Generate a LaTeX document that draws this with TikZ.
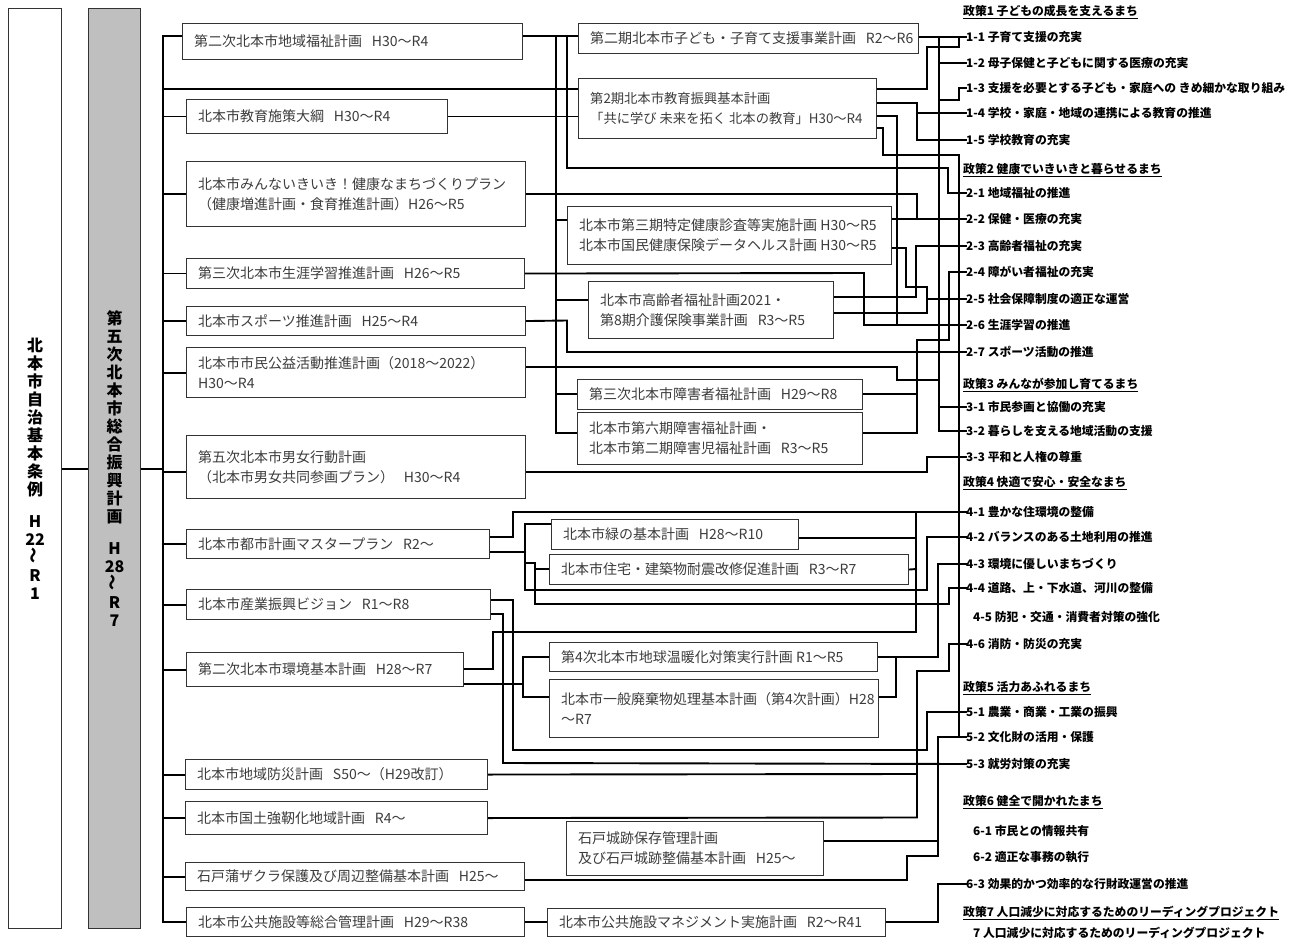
\documentclass[tikz,border=0pt]{standalone}
\usepackage{fontspec}
\setmainfont{Noto Sans CJK JP}
\usepackage{graphicx}
\usetikzlibrary{calc}
\definecolor{boxgray}{HTML}{BFBFBF}
\definecolor{txtgray}{HTML}{3C3C3C}
\pgfdeclarelayer{paper}
\pgfdeclarelayer{bg}
\pgfsetlayers{paper,bg,main}
\tikzset{
  pbx/.style={draw=black!80, line width=1.1pt, fill=white, inner sep=0pt},
  ptx/.style={text=txtgray, font=\fontsize{14}{20}\selectfont, align=left, inner sep=0pt},
  wire/.style={line width=1.9pt, black, line cap=rect, line join=miter},
  lab/.style={anchor=west, inner sep=0pt, font=\fontsize{11.8}{13}\selectfont\bfseries},
  vtext/.style={align=center, inner sep=0pt, font=\fontsize{16}{18}\selectfont\bfseries}
}
\newcommand{\gp}{\hspace{0.7em}}
\newcommand{\planbox}[6]{%
  \node[pbx, minimum width={#4pt-#2pt}, minimum height={#5pt-#3pt}, anchor=north west] (#1) at (#2,#3) {};
  \node[ptx, anchor=west] (#1t) at ([xshift=12pt]#1.west) {#6};}
\begin{document}
\begin{tikzpicture}[x=1pt,y=-1pt]
\useasboundingbox (0,0) rectangle (1301,941);
\begin{pgfonlayer}{paper}
\fill[white] (0,0) rectangle (1301,941);
\end{pgfonlayer}
% tall boxes
\node[draw=black!80, line width=1.1pt, fill=white, minimum width=53pt, minimum height=920pt, anchor=north west, inner sep=0pt] (jorei) at (8,8) {};
\node[vtext] (joreit) at (jorei.center) {北\\本\\市\\自\\治\\基\\本\\条\\例\\[14pt]H\\22\\\rotatebox{90}{～}\\R\\1};
\node[draw=black!80, line width=1.1pt, fill=boxgray, minimum width=52pt, minimum height=920pt, anchor=north west, inner sep=0pt] (sogo) at (88,8) {};
\node[vtext] (sogot) at (sogo.center) {第\\五\\次\\北\\本\\市\\総\\合\\振\\興\\計\\画\\[14pt]H\\28\\\rotatebox{90}{～}\\R\\7};
\coordinate (bus) at (163,0);
% left column
\planbox{b1}{182}{23}{522}{59}{第二次北本市地域福祉計画\gp H30～R4}
\planbox{b2}{186}{99}{447}{133}{北本市教育施策大綱\gp H30～R4}
\planbox{b3}{186}{161}{525}{226}{北本市みんないきいき！健康なまちづくりプラン\\（健康増進計画・食育推進計画）H26～R5}
\planbox{b4}{186}{258}{524}{288}{第三次北本市生涯学習推進計画\gp H26～R5}
\planbox{b5}{186}{306}{525}{335}{北本市スポーツ推進計画\gp H25～R4}
\planbox{b6}{186}{347}{525}{397}{北本市市民公益活動推進計画（2018～2022）\\H30～R4}
\planbox{b7}{186}{435}{525}{498}{第五次北本市男女行動計画\\（北本市男女共同参画プラン）\gp H30～R4}
\planbox{b8}{186}{529}{489}{558}{北本市都市計画マスタープラン\gp R2～}
\planbox{b9}{186}{589}{490}{619}{北本市産業振興ビジョン\gp R1～R8}
\planbox{b10}{186}{652}{463}{686}{第二次北本市環境基本計画\gp H28～R7}
\planbox{b11}{185}{759}{487}{789}{北本市地域防災計画\gp S50～（H29改訂）}
\planbox{b12}{185}{801}{487}{834}{北本市国土強靭化地域計画\gp R4～}
\planbox{b13}{185}{862}{524}{890}{石戸蒲ザクラ保護及び周辺整備基本計画\gp H25～}
\planbox{b14}{186}{907}{524}{936}{北本市公共施設等総合管理計画\gp H29～R38}
% middle column
\planbox{A}{578}{23}{918}{53}{第二期北本市子ども・子育て支援事業計画\gp R2～R6}
\planbox{B}{578}{78}{876}{138}{\fontsize{13.3}{20}\selectfont 第2期北本市教育振興基本計画\\\fontsize{13.3}{20}\selectfont 「共に学び 未来を拓く 北本の教育」H30～R4}
\planbox{C}{567}{206}{891}{264}{北本市第三期特定健康診査等実施計画 H30～R5\\北本市国民健康保険データヘルス計画 H30～R5}
\planbox{D}{588}{281}{833}{338}{北本市高齢者福祉計画2021・\\第8期介護保険事業計画\gp R3～R5}
\planbox{E}{577}{379}{862}{409}{第三次北本市障害者福祉計画\gp H29～R8}
\planbox{F}{577}{412}{862}{464}{北本市第六期障害福祉計画・\\北本市第二期障害児福祉計画\gp R3～R5}
\planbox{G}{551}{519}{798}{549}{北本市緑の基本計画\gp H28～R10}
\planbox{H}{549}{554}{908}{584}{北本市住宅・建築物耐震改修促進計画\gp R3～R7}
\planbox{I}{549}{642}{877}{671}{第4次北本市地球温暖化対策実行計画 R1～R5}
\planbox{J}{549}{679}{878}{737}{北本市一般廃棄物処理基本計画（第4次計画）H28\\～R7}
\planbox{K}{566}{821}{823}{875}{石戸城跡保存管理計画\\及び石戸城跡整備基本計画\gp H25～}
\planbox{L}{547}{908}{885}{936}{北本市公共施設マネジメント実施計画\gp R2～R41}
% right labels
\node[lab] (h1) at (963,12) {\underline{政策1 子どもの成長を支えるまち}};
\node[lab] (p11) at (966,37) {1-1 子育て支援の充実};
\node[lab] (p12) at (966,63) {1-2 母子保健と子どもに関する医療の充実};
\node[lab] (p13) at (966,88) {1-3 支援を必要とする子ども・家庭への きめ細かな取り組み};
\node[lab] (p14) at (966,113) {1-4 学校・家庭・地域の連携による教育の推進};
\node[lab] (p15) at (966,140) {1-5 学校教育の充実};
\node[lab] (h2) at (963,170) {\underline{政策2 健康でいきいきと暮らせるまち}};
\node[lab] (p21) at (966,193) {2-1 地域福祉の推進};
\node[lab] (p22) at (966,219) {2-2 保健・医療の充実};
\node[lab] (p23) at (966,246) {2-3 高齢者福祉の充実};
\node[lab] (p24) at (966,272) {2-4 障がい者福祉の充実};
\node[lab] (p25) at (966,299) {2-5 社会保障制度の適正な運営};
\node[lab] (p26) at (966,325) {2-6 生涯学習の推進};
\node[lab] (p27) at (966,352) {2-7 スポーツ活動の推進};
\node[lab] (h3) at (963,385) {\underline{政策3 みんなが参加し育てるまち}};
\node[lab] (p31) at (966,407) {3-1 市民参画と協働の充実};
\node[lab] (p32) at (966,431) {3-2 暮らしを支える地域活動の支援};
\node[lab] (p33) at (966,457) {3-3 平和と人権の尊重};
\node[lab] (h4) at (963,483) {\underline{政策4 快適で安心・安全なまち}};
\node[lab] (p41) at (966,512) {4-1 豊かな住環境の整備};
\node[lab] (p42) at (966,537) {4-2 バランスのある土地利用の推進};
\node[lab] (p43) at (966,564) {4-3 環境に優しいまちづくり};
\node[lab] (p44) at (966,588) {4-4 道路、上・下水道、河川の整備};
\node[lab] (p45) at (973,617) {4-5 防犯・交通・消費者対策の強化};
\node[lab] (p46) at (966,644) {4-6 消防・防災の充実};
\node[lab] (h5) at (963,688) {\underline{政策5 活力あふれるまち}};
\node[lab] (p51) at (966,712) {5-1 農業・商業・工業の振興};
\node[lab] (p52) at (966,737) {5-2 文化財の活用・保護};
\node[lab] (p53) at (966,764) {5-3 就労対策の充実};
\node[lab] (h6) at (963,802) {\underline{政策6 健全で開かれたまち}};
\node[lab] (p61) at (973,831) {6-1 市民との情報共有};
\node[lab] (p62) at (973,857) {6-2 適正な事務の執行};
\node[lab] (p63) at (966,884) {6-3 効果的かつ効率的な行財政運営の推進};
\node[lab] (h7) at (963,913) {\underline{政策7 人口減少に対応するためのリーディングプロジェクト}};
\node[lab] (p7) at (973,933) {7 人口減少に対応するためのリーディングプロジェクト};
\begin{pgfonlayer}{bg}
% left structure
\draw[wire] (jorei.east) -- (sogo.west);
\draw[wire] (sogo.east) -- (bus |- sogo.east);
\draw[wire] (bus |- 0,36) -- (bus |- 0,922);
\draw[wire] (bus |- 0,36) -- (b1.west |- 0,36);
\draw[wire] (bus |- 0,89) -- (B.west |- 0,89);
\foreach \b in {b2,b3,b4,b5,b6,b8,b9,b10,b11,b12,b13}{\draw[wire] (bus |- \b.west) -- (\b.west);}
\draw[wire] (bus |- 0,472) -- (b7.west |- 0,472);
\draw[wire] (bus |- 0,922) -- (b14.west |- 0,922);
% welfare
\draw[wire] (b1.east |- 0,36) -- (A.west |- 0,36);
\draw[wire] (556,36) -- (556,433);
\draw[wire] (556,220) -- (C.west |- 0,220);
\draw[wire] (556,300) -- (D.west |- 0,300);
\draw[wire] (556,394) -- (E.west |- 0,394);
\draw[wire] (556,433) -- (F.west |- 0,433);
\draw[wire] (567,36) -- (567,168) -- (948,168) -- (948,193) -- (p21.west);
% children
\draw[wire] (A.east |- p11.west) -- (p11.west);
\draw[wire] (939,37) -- (939,431) -- (p32.west);
\draw[wire] (939,63) -- (p12.west);
\draw[wire] (939,100) -- (959,100) -- (959,88) -- (p13.west);
\draw[wire] (939,407) -- (p31.west);
% education
\draw[wire] (b2.east) -- (B.west |- b2.east);
\draw[wire] (B.east |- 0,89) -- (927,89) -- (927,47) -- (959,47) -- (959,37);
\draw[wire] (B.east |- 0,103) -- (917,103) -- (917,140) -- (p15.west);
\draw[wire] (917,113) -- (p14.west);
\draw[wire] (B.east |- 0,116) -- (897,116) -- (897,325);
\draw[wire] (B.east |- 0,128) -- (883,128) -- (883,155) -- (959,155) -- (959,737) -- (p52.west);
% health
\draw[wire] (b3.east) -- (917,194) -- (917,219) -- (p22.west);
\draw[wire] (C.east |- p22.west) -- (p22.west);
\draw[wire] (C.east |- 0,248) -- (906,248) -- (906,287) -- (927,287) -- (927,313) -- (D.east |- 0,313);
\draw[wire] (927,299) -- (p25.west);
\draw[wire] (D.east |- 0,297) -- (916,297) -- (916,246) -- (p23.west);
\draw[wire] (b4.east) -- (864,273) -- (864,325) -- (p26.west);
\draw[wire] (E.east |- 0,394) -- (917,394);
\draw[wire] (F.east |- 0,433) -- (917,433) -- (917,340) -- (949,340) -- (949,272) -- (p24.west);
\draw[wire] (b5.east) -- (567,320.5) -- (567,352) -- (p27.west);
\draw[wire] (b6.east |- 0,367) -- (897,367) -- (897,380) -- (939,380);
\draw[wire] (b7.east |- 0,472) -- (927,472) -- (927,457) -- (p33.west);
% town planning
\draw[wire] (b8.east |- 0,537) -- (513,537) -- (513,512) -- (p41.west);
\draw[wire] (b8.east |- 0,552) -- (525,552);
\draw[wire] (525,524) -- (525,590) -- (927,590) -- (927,537) -- (p42.west);
\draw[wire] (525,524) -- (G.west |- 0,524);
\draw[wire] (525,563) -- (535,563) -- (535,604) -- (949,604) -- (949,588) -- (p44.west);
\draw[wire] (535,569) -- (H.west |- 0,569);
\draw[wire] (G.east |- 0,538) -- (916,538);
\draw[wire] (H.east) -- (916,569);
\draw[wire] (916,512) -- (916,632);
% environment
\draw[wire] (b10.east |- 0,669) -- (493,669) -- (493,632) -- (916,632);
\draw[wire] (b10.east |- 0,684) -- (523,684);
\draw[wire] (523,657) -- (523,697);
\draw[wire] (523,657) -- (I.west |- 0,657);
\draw[wire] (523,697) -- (J.west |- 0,697);
\draw[wire] (I.east |- 0,657) -- (896,657) -- (896,697) -- (J.east |- 0,697);
\draw[wire] (896,657) -- (938,657) -- (938,564) -- (p43.west);
% industry
\draw[wire] (b9.east |- 0,600) -- (513,600) -- (513,750) -- (927,750) -- (927,712) -- (p51.west);
\draw[wire] (b9.east |- 0,614) -- (503,614) -- (503,763) -- (p53.west);
% disaster
\draw[wire] (b11.east) -- (917,774);
\draw[wire] (b12.east) -- (917,817.5);
\draw[wire] (917,817.5) -- (917,671) -- (949,671) -- (949,644) -- (p46.west);
% culture
\draw[wire] (K.east |- 0,841) -- (938,841);
\draw[wire] (b13.east |- 0,880) -- (907,880) -- (907,856) -- (938,856);
\draw[wire] (938,856) -- (938,737) -- (p52.west);
% facilities
\draw[wire] (b14.east |- 0,922) -- (L.west |- 0,922);
\draw[wire] (L.east |- 0,922) -- (938,922) -- (938,884) -- (p63.west);
\end{pgfonlayer}
\end{tikzpicture}
\end{document}
